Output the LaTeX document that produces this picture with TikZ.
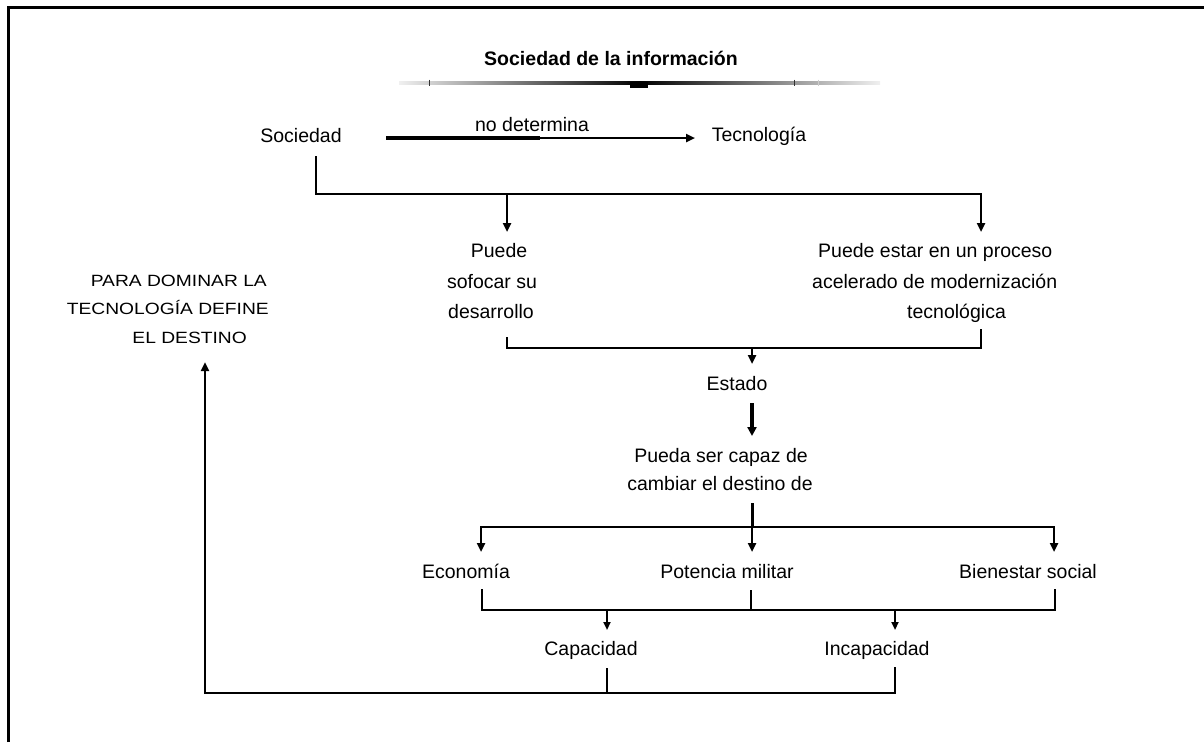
\documentclass[tikz,border=0pt]{standalone}
\usepackage{fontspec}
\setmainfont{Liberation Sans}
\newfontfamily\capsfont[FakeStretch=1.18]{Liberation Sans}
\usetikzlibrary{arrows.meta}
\begin{document}
\begin{tikzpicture}[x=1pt,y=-1pt,
  txt/.style={inner sep=0pt,font=\fontsize{19.5}{23}\selectfont},
  captxt/.style={inner sep=0pt,font=\capsfont\fontsize{16.3}{20}\selectfont},
  ln/.style={line width=2.5pt,line cap=rect},
  thinln/.style={line width=2pt},
  arr/.style={line width=2.5pt,-{Triangle[length=9pt,width=8pt]}},
  thinarr/.style={line width=2pt,-{Triangle[length=8pt,width=7pt]}}]
\fill[white] (0,0) rectangle (1204,742);
\useasboundingbox (0,0) rectangle (1204,742);
% frame
\coordinate (fTL) at (8,7);
\coordinate (fTR) at (1204,7);
\coordinate (fBL) at (8,742);
\draw[line width=3pt] (fBL) -- (fTL) -- (fTR);
% title and bar
\node[txt,anchor=base,font=\bfseries\fontsize{19.5}{23}\selectfont] (title) at (611,65) {Sociedad de la información};
\shade[left color=gray!12,right color=black] (399,81.5) rectangle (640,84.5);
\shade[left color=black,right color=gray!12] (640,81.5) rectangle (880,84.5);
\fill[black] (630,82) rectangle (648,88);
\draw[line width=1pt,black!80] (429,79.5) -- (429,86);
\draw[line width=1pt,black!80] (794,79.5) -- (794,86);
\draw[line width=1pt,gray!40] (818,79.5) -- (818,86);
% first row
\node[txt,anchor=base] (soc) at (301,142) {Sociedad};
\node[txt,anchor=base] (tec) at (759,141) {Tecnología};
\node[txt,anchor=base] (nodet) at (532,131) {no determina};
\coordinate (a1s) at (386,138);
\coordinate (a1m) at (540,138);
\coordinate (a1e) at (695,138);
\draw[line width=4pt] (a1s) -- (a1m);
\draw[line width=2.5pt,-{Triangle[length=9pt,width=8pt]}] (a1m) -- (a1e);
% bracket 1
\coordinate (b1a) at (316,157);
\coordinate (b1b) at (316,194);
\coordinate (b1c) at (981,194);
\coordinate (b1l) at (507,194);
\coordinate (b1lt) at (507,232);
\coordinate (b1rt) at (981,232);
\draw[ln] (b1a) -- (b1b) -- (b1c);
\draw[arr] (b1l) -- (b1lt);
\draw[arr] (b1c) -- (b1rt);
% second row texts
\node[txt,anchor=base] (p1) at (499,257) {Puede};
\node[txt,anchor=base] (p2) at (492,288) {sofocar su};
\node[txt,anchor=base] (p3) at (491,318) {desarrollo};
\node[txt,anchor=base west] (q1) at (818,257) {Puede estar en un proceso};
\node[txt,anchor=base west] (q2) at (812,288) {acelerado de modernización};
\node[txt,anchor=base west] (q3) at (907,318) {tecnológica};
\node[captxt,anchor=base east] (c1) at (267,286) {PARA DOMINAR LA};
\node[captxt,anchor=base east] (c2) at (269,314) {TECNOLOGÍA DEFINE};
\node[captxt,anchor=base east] (c3) at (247,343) {EL DESTINO};
% bracket 2
\coordinate (b2a) at (507,338);
\coordinate (b2b) at (507,348);
\coordinate (b2c) at (981,348);
\coordinate (b2d) at (981,330);
\coordinate (b2m) at (752,348);
\coordinate (b2mt) at (752,364);
\draw[ln] (b2a) -- (b2b) -- (b2c) -- (b2d);
\draw[arr] (b2m) -- (b2mt);
% estado
\node[txt,anchor=base] (est) at (737,390) {Estado};
\coordinate (e1) at (752,403);
\coordinate (e2) at (752,436);
\draw[line width=3.5pt,-{Triangle[length=9pt,width=9pt]}] (e1) -- (e2);
\node[txt,anchor=base] (pu1) at (721,462) {Pueda ser capaz de};
\node[txt,anchor=base] (pu2) at (720,490) {cambiar el destino de};
% bracket 3
\coordinate (b3a) at (752,503);
\coordinate (b3b) at (752,527);
\coordinate (b3l) at (481,527);
\coordinate (b3r) at (1054,527);
\coordinate (b3lt) at (481,552);
\coordinate (b3mt) at (752,552);
\coordinate (b3rt) at (1054,552);
\draw[line width=3pt] (b3a) -- (b3b);
\draw[ln] (b3l) -- (b3r);
\draw[arr] (b3l) -- (b3lt);
\draw[arr] (b3b) -- (b3mt);
\draw[arr] (b3r) -- (b3rt);
\node[txt,anchor=base] (eco) at (466,578) {Economía};
\node[txt,anchor=base] (pot) at (727,578) {Potencia militar};
\node[txt,anchor=base west] (bie) at (959,578) {Bienestar social};
% bracket 4
\coordinate (b4a) at (482,590);
\coordinate (b4b) at (482,610);
\coordinate (b4c) at (1055,610);
\coordinate (b4d) at (1055,590);
\coordinate (b4m) at (751,590);
\coordinate (b4mb) at (751,610);
\coordinate (b4l) at (607,610);
\coordinate (b4lt) at (607,630);
\coordinate (b4r) at (895,610);
\coordinate (b4rt) at (895,630);
\draw[ln] (b4a) -- (b4b) -- (b4c) -- (b4d);
\draw[thinln] (b4m) -- (b4mb);
\draw[thinarr] (b4l) -- (b4lt);
\draw[thinarr] (b4r) -- (b4rt);
\node[txt,anchor=base] (cap) at (591,655) {Capacidad};
\node[txt,anchor=base] (inc) at (877,655) {Incapacidad};
% bottom return
\coordinate (b5a) at (607,668);
\coordinate (b5b) at (607,693);
\coordinate (b5c) at (895,668);
\coordinate (b5d) at (895,693);
\coordinate (b5e) at (205,693);
\coordinate (b5t) at (205,362);
\draw[thinln] (b5a) -- (b5b);
\draw[ln] (b5c) -- (b5d) -- (b5e);
\draw[arr] (b5e) -- (b5t);
\end{tikzpicture}
\end{document}
